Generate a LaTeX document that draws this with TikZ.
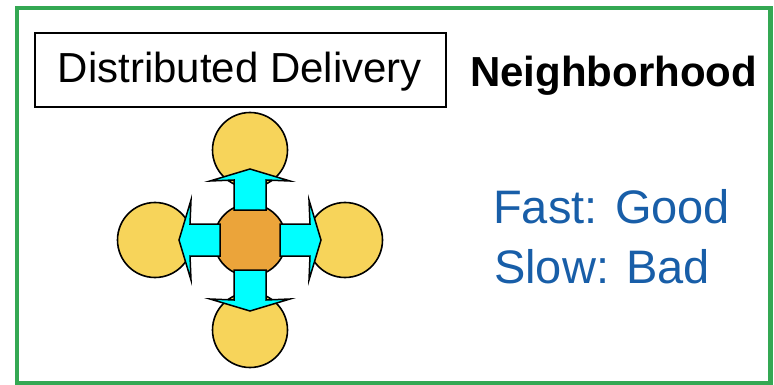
\documentclass[tikz,border=0pt]{standalone}
\usepackage{fontspec}
\setmainfont{Liberation Sans}
\definecolor{framegreen}{RGB}{52,168,83}
\definecolor{nyellow}{RGB}{247,212,90}
\definecolor{corange}{RGB}{235,164,58}
\definecolor{acyan}{RGB}{0,255,255}
\definecolor{tblue}{RGB}{24,94,168}
\tikzset{
  frame/.style={draw=framegreen, line width=4.5pt, minimum width=753.5pt, minimum height=375.5pt, inner sep=0pt},
  titlebox/.style={draw=black, line width=2pt, minimum width=411pt, minimum height=74pt, inner sep=0pt},
  bigtext/.style={inner sep=0pt, font=\fontsize{42}{50}\selectfont},
  bluetext/.style={inner sep=0pt, text=tblue, font=\fontsize{47}{56}\selectfont},
  nbr/.style={circle, draw=black, line width=1.6pt, fill=nyellow, minimum size=75pt, inner sep=0pt},
  ctr/.style={circle, draw=black, line width=1.6pt, fill=corange, minimum size=72pt, inner sep=0pt},
  barrow/.pic={
    \draw[black, fill=acyan, line width=1.5pt, line join=miter, miter limit=20]
      (30,-16) -- (60,-16) -- (59,-40) -- (71,0) -- (59,40) -- (60,16) -- (30,16) -- cycle;
  }
}
\begin{document}
\begin{tikzpicture}[x=1pt, y=-1pt]
\useasboundingbox (0,0) rectangle (774,385);
\node[frame] (fr) at (393.75,195.75) {};
\node[titlebox] (box) at (240.5,70) {};
\node[bigtext, anchor=base] (dd) at (240,83) {Distributed Delivery};
\node[bigtext, anchor=base west, font=\fontsize{42}{50}\selectfont\bfseries] (nb) at (470,87) {Neighborhood};
\node[bluetext, anchor=base west] (fast) at (493,223) {Fast: Good};
\node[bluetext, anchor=base west] (slow) at (494,283) {Slow: Bad};
% neighbours
\node[nbr] (n) at (250,150) {};
\node[nbr] (s) at (250,330) {};
\node[nbr] (w) at (155,240) {};
\node[nbr] (e) at (345,240) {};
\node[ctr] (c) at (250,240) {};
% block arrows from centre to neighbours
\pic[rotate=90] at (c) {barrow};
\pic[rotate=0] at (c) {barrow};
\pic[rotate=180] at (c) {barrow};
\pic[rotate=270] at (c) {barrow};
\end{tikzpicture}
\end{document}
